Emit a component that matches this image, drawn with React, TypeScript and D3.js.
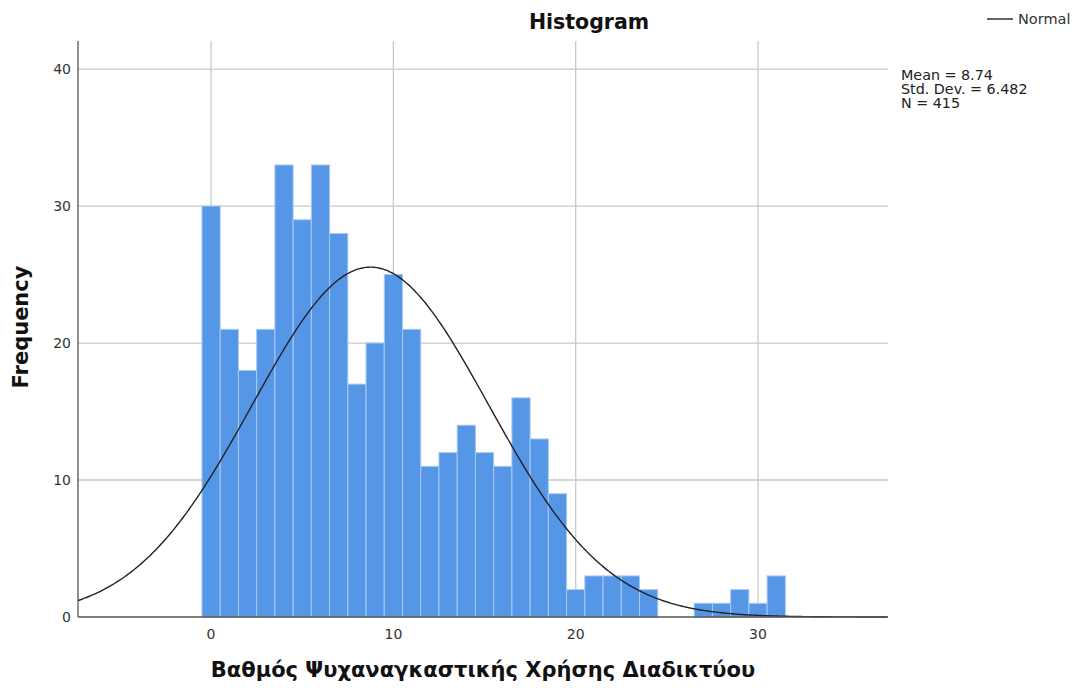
import React, { useEffect, useRef } from "react";
import * as d3 from "d3";

// bin centres (integer scores) and their counts
const binCenters = [
  0, 1, 2, 3, 4, 5, 6, 7, 8, 9, 10, 11, 12, 13, 14, 15, 16, 17, 18, 19, 20,
  21, 22, 23, 24, 25, 26, 27, 28, 29, 30, 31,
];
const binCounts = [
  30, 21, 18, 21, 33, 29, 33, 28, 17, 20, 25, 21, 11, 12, 14, 12, 11, 16, 13, 9,
  2, 3, 3, 3, 2, 0, 0, 1, 1, 2, 1, 3,
];
const xTicks = [0, 10, 20, 30];
const yTicks = [0, 10, 20, 30, 40];
const mean = 8.74;
const stdDev = 6.482;
const n = 415;
const statLines = ["Mean = 8.74", "Std. Dev. = 6.482", "N = 415"];

const W = 1077;
const H = 688;
const FONT = "'DejaVu Sans', 'Open Sans', sans-serif";

export default function App() {
  const svgRef = useRef<SVGSVGElement>(null);

  useEffect(() => {
    if (!svgRef.current) return;
    const svg = d3.select(svgRef.current);
    svg.selectAll("*").remove();

    const left = 78;
    const right = 888;
    const top = 41;
    const bottom = 617;

    const x = d3.scaleLinear().domain([-7.3, 37.13]).range([left, right]);
    const y = d3.scaleLinear().domain([0, 42.05]).range([bottom, top]);

    // grid
    svg
      .append("g")
      .selectAll("line")
      .data(yTicks.filter((t) => t > 0))
      .enter()
      .append("line")
      .attr("x1", left)
      .attr("x2", right)
      .attr("y1", (d) => y(d))
      .attr("y2", (d) => y(d))
      .attr("stroke", "#c9c9c9")
      .attr("stroke-width", 1.3);

    svg
      .append("g")
      .selectAll("line")
      .data(xTicks)
      .enter()
      .append("line")
      .attr("x1", (d) => x(d))
      .attr("x2", (d) => x(d))
      .attr("y1", top)
      .attr("y2", bottom)
      .attr("stroke", "#c9c9c9")
      .attr("stroke-width", 1.3);

    // bars
    const bw = x(1) - x(0);
    svg
      .append("g")
      .selectAll("rect")
      .data(binCenters.map((c, i) => ({ c, v: binCounts[i] })).filter((d) => d.v > 0))
      .enter()
      .append("rect")
      .attr("x", (d) => x(d.c - 0.5))
      .attr("width", bw)
      .attr("y", (d) => y(d.v))
      .attr("height", (d) => bottom - y(d.v))
      .attr("fill", "#5596e6")
      .attr("stroke", "#a9c9f2")
      .attr("stroke-width", 1);

    // normal curve scaled to counts (bin width 1)
    const pdf = (v: number) =>
      (n / (stdDev * Math.sqrt(2 * Math.PI))) *
      Math.exp(-((v - mean) ** 2) / (2 * stdDev * stdDev));
    const pts = d3.range(-7.3, 37.14, 0.1);
    const line = d3
      .line<number>()
      .x((d) => x(d))
      .y((d) => y(pdf(d)))
      .curve(d3.curveBasis);
    svg
      .append("path")
      .datum(pts)
      .attr("fill", "none")
      .attr("stroke", "#222")
      .attr("stroke-width", 1.4)
      .attr("d", line);

    // axis lines
    svg
      .append("line")
      .attr("x1", left)
      .attr("x2", right)
      .attr("y1", bottom)
      .attr("y2", bottom)
      .attr("stroke", "#555")
      .attr("stroke-width", 1.3);
    svg
      .append("line")
      .attr("x1", left)
      .attr("x2", left)
      .attr("y1", top)
      .attr("y2", bottom)
      .attr("stroke", "#555")
      .attr("stroke-width", 1.3);

    // tick labels
    svg
      .append("g")
      .selectAll("text")
      .data(xTicks)
      .enter()
      .append("text")
      .attr("x", (d) => x(d))
      .attr("y", 639)
      .attr("text-anchor", "middle")
      .attr("font-family", FONT)
      .attr("font-size", 14)
      .attr("fill", "#333")
      .text((d) => d);

    svg
      .append("g")
      .selectAll("text")
      .data(yTicks)
      .enter()
      .append("text")
      .attr("x", 71)
      .attr("y", (d) => y(d) + 5)
      .attr("text-anchor", "end")
      .attr("font-family", FONT)
      .attr("font-size", 14)
      .attr("fill", "#333")
      .text((d) => d);

    // titles
    svg
      .append("text")
      .attr("x", 589)
      .attr("y", 29)
      .attr("text-anchor", "middle")
      .attr("font-family", FONT)
      .attr("font-weight", "bold")
      .attr("font-size", 20.5)
      .attr("fill", "#111")
      .text("Histogram");

    svg
      .append("text")
      .attr("x", 483)
      .attr("y", 677)
      .attr("text-anchor", "middle")
      .attr("font-family", FONT)
      .attr("font-weight", "bold")
      .attr("font-size", 21)
      .attr("fill", "#111")
      .text("Βαθμός Ψυχαναγκαστικής Χρήσης Διαδικτύου");

    svg
      .append("text")
      .attr("transform", `translate(28,327) rotate(-90)`)
      .attr("text-anchor", "middle")
      .attr("font-family", FONT)
      .attr("font-weight", "bold")
      .attr("font-size", 21)
      .attr("fill", "#111")
      .text("Frequency");

    // legend
    svg
      .append("line")
      .attr("x1", 987)
      .attr("x2", 1013)
      .attr("y1", 19)
      .attr("y2", 19)
      .attr("stroke", "#222")
      .attr("stroke-width", 1.4);
    svg
      .append("text")
      .attr("x", 1018)
      .attr("y", 24)
      .attr("font-family", FONT)
      .attr("font-size", 14.5)
      .attr("fill", "#333")
      .text("Normal");

    svg
      .append("g")
      .selectAll("text")
      .data(statLines)
      .enter()
      .append("text")
      .attr("x", 901)
      .attr("y", (_, i) => 80 + i * 14)
      .attr("font-family", FONT)
      .attr("font-size", 14.3)
      .attr("fill", "#222")
      .text((d) => d);
  }, []);

  return (
    <div style={{ position: "absolute", left: 0, top: 0 }}>
      <svg ref={svgRef} width={W} height={H} style={{ display: "block", background: "#fff" }} />
    </div>
  );
}
